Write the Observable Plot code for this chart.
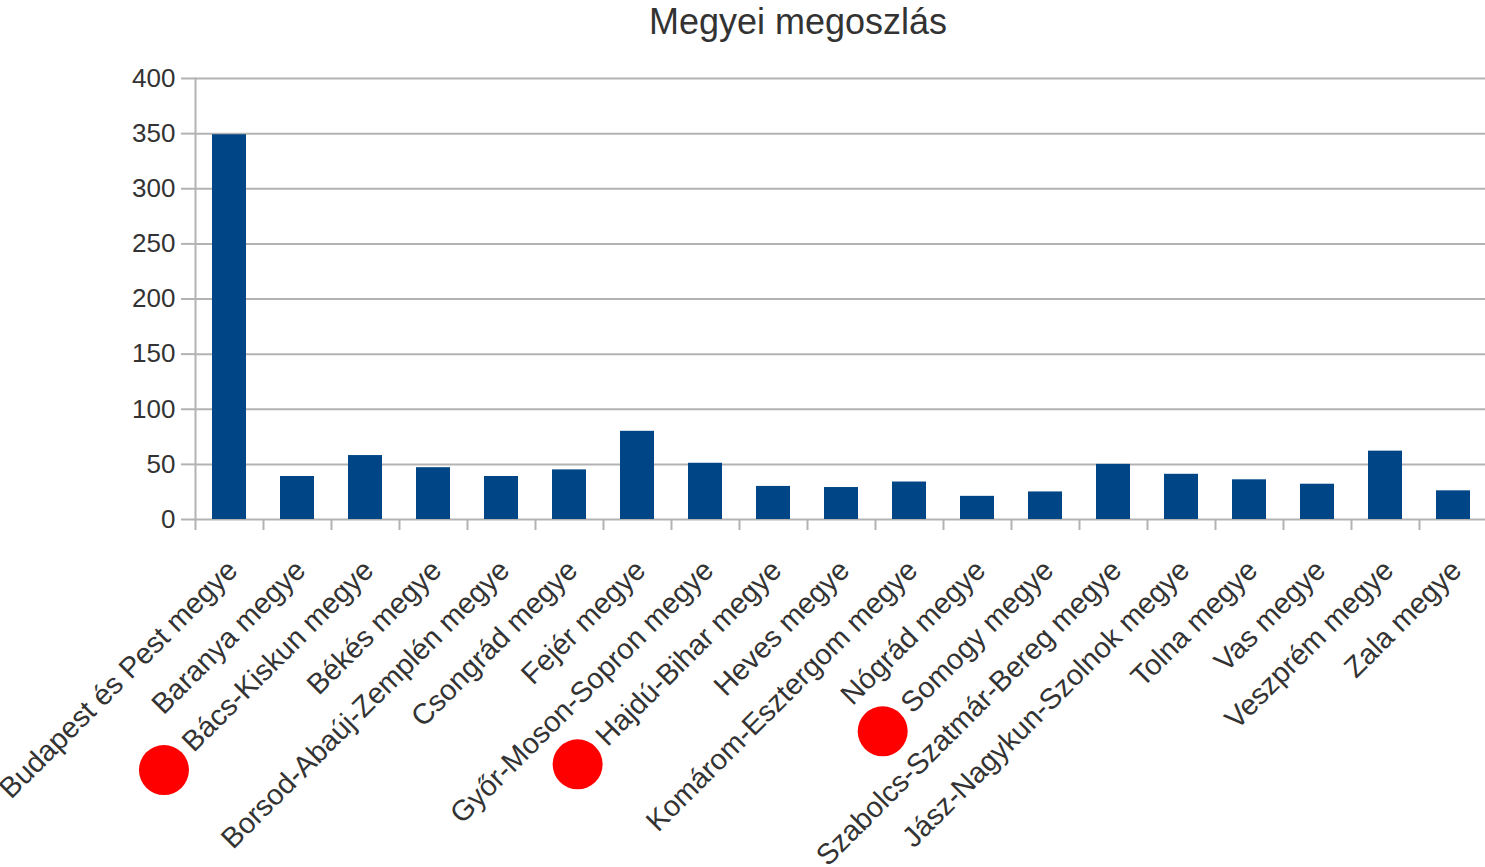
<!DOCTYPE html>
<html>
<head>
<meta charset="utf-8">
<script src="https://cdn.jsdelivr.net/npm/d3@7"></script>
<script src="https://cdn.jsdelivr.net/npm/@observablehq/plot@0.6"></script>
<style>
  html, body { margin: 0; padding: 0; background: #fff; overflow: hidden; }
  body { font-family: "Liberation Sans", Arial, sans-serif; width: 1485px; height: 867px; }
  #title { height: 40px; line-height: 43px; padding-left: 111px; text-align: center; font-size: 36px; color: #333; box-sizing: border-box; white-space: nowrap; }
  #chart svg { display: block; }
</style>
</head>
<body>
<div id="title">Megyei megoszlás</div>
<div id="chart"></div>
<script>
// ---- data ----
const counties = [
  "Budapest és Pest megye", "Baranya megye", "Bács-Kiskun megye", "Békés megye",
  "Borsod-Abaúj-Zemplén megye", "Csongrád megye", "Fejér megye", "Győr-Moson-Sopron megye",
  "Hajdú-Bihar megye", "Heves megye", "Komárom-Esztergom megye", "Nógrád megye",
  "Somogy megye", "Szabolcs-Szatmár-Bereg megye", "Jász-Nagykun-Szolnok megye", "Tolna megye",
  "Vas megye", "Veszprém megye", "Zala megye"
];
const counts = [349, 39, 58, 47, 39, 45, 80, 51, 30, 29, 34, 21, 25, 50, 41, 36, 32, 62, 26];
const markedCounties = ["Bács-Kiskun megye", "Hajdú-Bihar megye", "Somogy megye"];
const yTicks = [0, 50, 100, 150, 200, 250, 300, 350, 400];

// ---- layout ----
const W = 1485, H = 827, ML = 195, MT = 38, MB = 348;
const STEP = 68;
const LABEL_SIZE = 29, LABEL_DX = 3, LABEL_DY = 46, DOT_GAP = 33;
const FONT = '"Liberation Sans", Arial, sans-serif';
const GRID = "#b3b3b3", BAR = "#004586", TEXT = "#333";

const rows = counties.map((name, i) => ({name, count: counts[i]}));
const marked = rows.filter(d => markedCounties.includes(d.name));

const chart = Plot.plot({
  width: W,
  height: H,
  marginLeft: ML,
  marginRight: 0,
  marginTop: MT,
  marginBottom: MB,
  style: {fontFamily: FONT, background: "white", color: TEXT},
  x: {type: "band", domain: counties, range: [ML, ML + STEP * counties.length], paddingInner: 0.5, paddingOuter: 0.25, align: 0.5, axis: null},
  y: {domain: [0, 400], axis: null},
  marks: [
    Plot.gridY(yTicks, {stroke: GRID, strokeOpacity: 1, strokeWidth: 2}),
    Plot.frame({anchor: "left", stroke: GRID, strokeWidth: 2}),
    Plot.ruleX(counties, {x: d => d, y1: () => 0, y2: () => -10, dx: -STEP / 2, stroke: GRID, strokeWidth: 2}),
    Plot.axisY({ticks: yTicks, tickSize: 14, tickPadding: 6, fontSize: 26, stroke: GRID, strokeWidth: 2, fill: TEXT, label: null}),
    Plot.barY(rows, {x: "name", y: "count", fill: BAR}),
    Plot.text(rows, {
      x: "name", y: () => 0, text: "name", rotate: -45, textAnchor: "end", lineAnchor: "middle",
      dx: LABEL_DX, dy: LABEL_DY, fontSize: LABEL_SIZE, fill: TEXT
    }),
    Plot.dot(marked, {
      x: "name", y: () => 0, r: 25, fill: "#ff0000", stroke: "none",
      render(index, scales, values, dimensions, context, next) {
        const g = next(index, scales, values, dimensions, context);
        const cv = document.createElement("canvas").getContext("2d");
        cv.font = `${LABEL_SIZE}px ${FONT}`;
        const circles = g.querySelectorAll("circle");
        index.forEach((i, k) => {
          const c = circles[k];
          if (!c) return;
          const along = cv.measureText(marked[i].name).width + DOT_GAP;
          c.setAttribute("cx", +c.getAttribute("cx") + LABEL_DX - along * Math.SQRT1_2);
          c.setAttribute("cy", +c.getAttribute("cy") + LABEL_DY + along * Math.SQRT1_2);
        });
        return g;
      }
    })
  ]
});
document.getElementById("chart").appendChild(chart);
</script>
</body>
</html>
